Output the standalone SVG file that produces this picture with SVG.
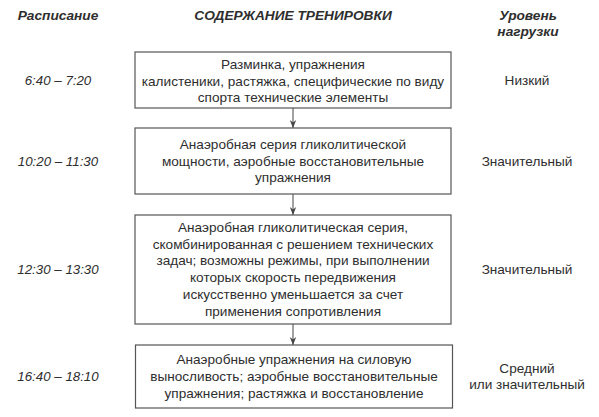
<svg xmlns="http://www.w3.org/2000/svg" width="599" height="417" viewBox="0 0 599 417">
<defs>
<style>
text{font-family:"Liberation Sans",Arial,sans-serif;fill:#2e2e2e;}
.h{font-size:13.7px;font-weight:bold;font-style:italic;text-anchor:middle;}
.t{font-size:13.3px;font-style:italic;text-anchor:middle;}
.b{font-size:13.6px;text-anchor:middle;}
.l{font-size:13.6px;text-anchor:middle;}
.box{fill:#fff;stroke:#555;stroke-width:1.2;}
.c{stroke:#444;stroke-width:1;fill:none;}
</style>
<marker id="ah" viewBox="0 0 10 10" refX="10" refY="5" markerWidth="8" markerHeight="8" markerUnits="userSpaceOnUse" orient="auto">
<path d="M0,1 L10,5 L0,9 L3,5 Z" fill="#444"/>
</marker>
</defs>
<rect width="599" height="417" fill="#fff"/>
<g id="headers">
<text class="h" x="58" y="20">Расписание</text>
<text class="h" x="293" y="20">СОДЕРЖАНИЕ ТРЕНИРОВКИ</text>
<text class="h" x="528" y="20">Уровень</text>
<text class="h" x="528" y="36">нагрузки</text>
</g>
<g id="connectors">
<line class="c" x1="293" y1="108" x2="293" y2="128" marker-end="url(#ah)"/>
<line class="c" x1="293" y1="194" x2="293" y2="215" marker-end="url(#ah)"/>
<line class="c" x1="293" y1="324" x2="293" y2="345" marker-end="url(#ah)"/>
</g>
<g id="node1">
<rect class="box" x="135" y="52" width="316" height="56"/>
<text class="b" x="293" y="69">Разминка, упражнения</text>
<text class="b" x="293" y="85.5">калистеники, растяжка, специфические по виду</text>
<text class="b" x="293" y="102">спорта технические элементы</text>
<text class="t" x="58" y="85">6:40 – 7:20</text>
<text class="l" x="527" y="85">Низкий</text>
</g>
<g id="node2">
<rect class="box" x="135" y="128" width="316" height="66"/>
<text class="b" x="293" y="149">Анаэробная серия гликолитической</text>
<text class="b" x="293" y="165.7">мощности, аэробные восстановительные</text>
<text class="b" x="293" y="182.4">упражнения</text>
<text class="t" x="58" y="165.5">10:20 – 11:30</text>
<text class="l" x="527" y="165.5">Значительный</text>
</g>
<g id="node3">
<rect class="box" x="135" y="215" width="316" height="109"/>
<text class="b" x="293" y="232">Анаэробная гликолитическая серия,</text>
<text class="b" x="293" y="248.7">скомбинированная с решением технических</text>
<text class="b" x="293" y="265.4">задач; возможны режимы, при выполнении</text>
<text class="b" x="293" y="282.1">которых скорость передвижения</text>
<text class="b" x="293" y="298.8">искусственно уменьшается за счет</text>
<text class="b" x="293" y="315.5">применения сопротивления</text>
<text class="t" x="58" y="274">12:30 – 13:30</text>
<text class="l" x="527" y="274">Значительный</text>
</g>
<g id="node4">
<rect class="box" x="135.5" y="345" width="317" height="63"/>
<text class="b" x="294" y="364">Анаэробные упражнения на силовую</text>
<text class="b" x="294" y="380.8">выносливость; аэробные восстановительные</text>
<text class="b" x="294" y="397.5">упражнения; растяжка и восстановление</text>
<text class="t" x="58" y="381">16:40 – 18:10</text>
<text class="l" x="527" y="372.5">Средний</text>
<text class="l" x="527" y="389.2">или значительный</text>
</g>
</svg>
